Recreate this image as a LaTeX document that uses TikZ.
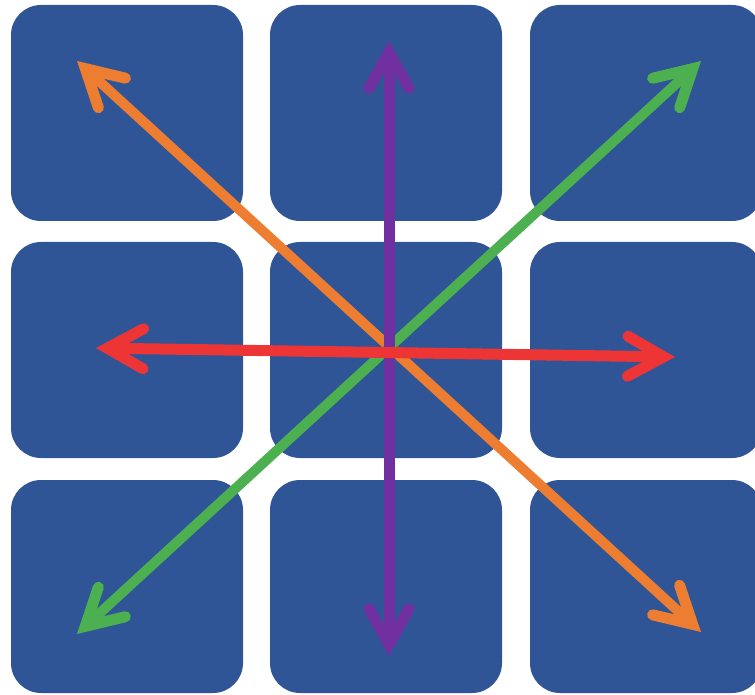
\documentclass[tikz,border=0pt]{standalone}
\usetikzlibrary{arrows.meta}
\definecolor{tileblue}{HTML}{2F5597}
\definecolor{arrorange}{HTML}{ED7D31}
\definecolor{arrgreen}{HTML}{4CB050}
\definecolor{arrpurple}{HTML}{7030A0}
\definecolor{arrred}{HTML}{EE3535}
\begin{document}
\begin{tikzpicture}[x=1pt,y=-1pt,
  tile/.style={fill=tileblue, draw=none, rounded corners=30pt, inner sep=0pt,
    minimum width=232pt, minimum height=216pt},
  tip/.tip={Straight Barb[length=36pt, width=40pt, line width=11pt, line cap=round, line join=miter]},
  arr/.style={line width=10pt, {tip}-{tip}}]
\useasboundingbox (0,0) rectangle (755,695);
\clip (0,0) rectangle (755,695);
% tiles
\node[tile] (t11) at (127,113) {};
\node[tile] (t12) at (386,113) {};
\node[tile] (t13) at (646,113) {};
\node[tile] (t21) at (127,350) {};
\node[tile] (t22) at (386,350) {};
\node[tile] (t23) at (646,350) {};
\node[tile, minimum height=213pt] (t31) at (127,586.5) {};
\node[tile, minimum height=213pt] (t32) at (386,586.5) {};
\node[tile, minimum height=213pt] (t33) at (646,586.5) {};
% arrow ends
\coordinate (oA) at (77,61);
\coordinate (oB) at (701,632);
\coordinate (gA) at (77,634);
\coordinate (gB) at (701,61);
\coordinate (pA) at (389,41);
\coordinate (pB) at (389,656);
\coordinate (rA) at (96,348);
\coordinate (rB) at (675,357);
% arrows
\draw[arr, arrorange] (oA) -- (oB);
\draw[arr, arrgreen] (gA) -- (gB);
\draw[arr, arrpurple, line width=11pt] (pA) -- (pB);
\draw[arr, arrred, line width=11pt] (rA) -- (rB);
\end{tikzpicture}
\end{document}
